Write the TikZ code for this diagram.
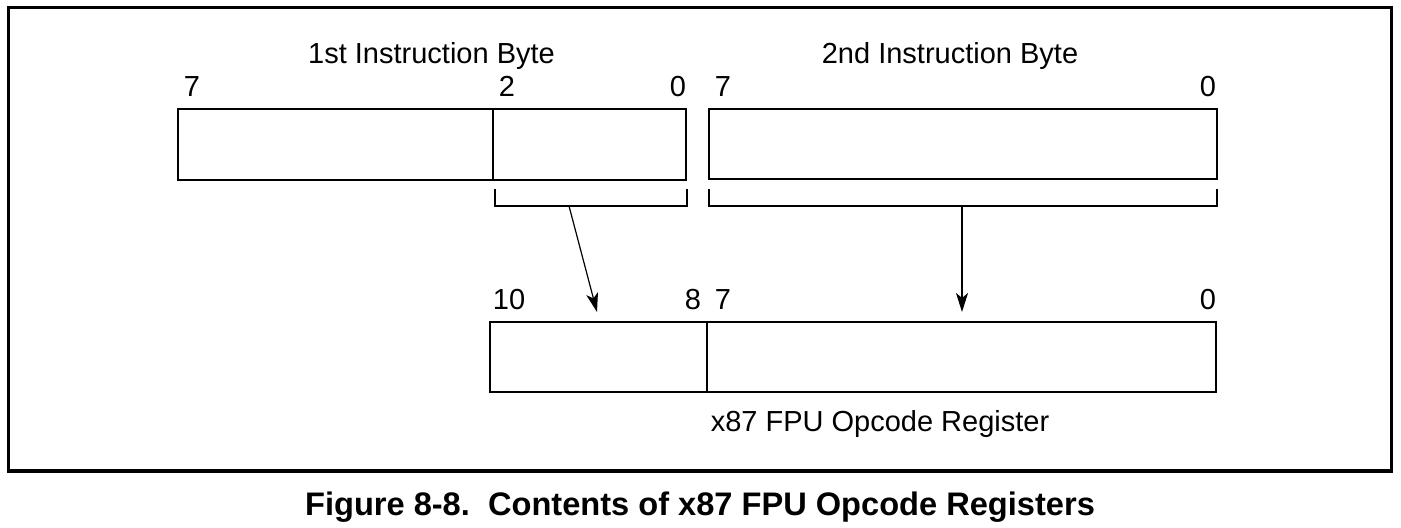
\documentclass[tikz,border=0pt]{standalone}
\usepackage{fontspec}
\setmainfont{Liberation Sans}
\usetikzlibrary{arrows.meta}
\begin{document}
\begin{tikzpicture}[x=0.5pt,y=-0.5pt,
  reg/.style={draw, line width=1.3pt, inner sep=0pt, rectangle},
  lbl/.style={anchor=base, inner sep=0pt, font=\fontsize{14.5pt}{17pt}\selectfont},
  brk/.style={line width=1.1pt},
  arr/.style={-{Stealth[length=9.5pt,width=6pt,inset=2.5pt]}},
  figcap/.style={anchor=base, inner sep=0pt, font=\fontsize{16.3pt}{19pt}\selectfont\bfseries}]
\useasboundingbox (0,0) rectangle (1401,528);
\draw[line width=1.5pt] (8,8) rectangle (1391,471);
% registers
\node[reg, minimum width=254pt, minimum height=35.5pt] (b1) at (432,144.5) {};
\node[reg, minimum width=254pt, minimum height=35pt] (b2) at (963,144) {};
\node[reg, minimum width=363pt, minimum height=35pt] (b3) at (853,357) {};
\coordinate (d1t) at (493,109); \coordinate (d1b) at (493,180);
\draw[line width=1.3pt] (d1t) -- (d1b);
\coordinate (d3t) at (707,322); \coordinate (d3b) at (707,392);
\draw[line width=1.3pt] (d3t) -- (d3b);
% brackets
\coordinate (k1a) at (495,189); \coordinate (k1b) at (495,206);
\coordinate (k1c) at (687,206); \coordinate (k1d) at (687,189);
\draw[brk] (k1a) -- (k1b) -- (k1c) -- (k1d);
\coordinate (k2a) at (709,189); \coordinate (k2b) at (709,206);
\coordinate (k2c) at (1217,206); \coordinate (k2d) at (1217,189);
\draw[brk] (k2a) -- (k2b) -- (k2c) -- (k2d);
% arrows
\coordinate (a1s) at (569,206); \coordinate (a1e) at (597,312);
\draw[arr, line width=0.6pt] (a1s) -- (a1e);
\coordinate (a2s) at (962,206); \coordinate (a2e) at (962,312);
\draw[arr, line width=1pt] (a2s) -- (a2e);
% labels
\node[lbl] (t1) at (431.5,64) {1st Instruction Byte};
\node[lbl] (t2) at (950,64) {2nd Instruction Byte};
\node[lbl] (n17) at (192,97) {7};
\node[lbl] (n12) at (507,97) {2};
\node[lbl] (n10) at (678,97) {0};
\node[lbl] (n27) at (723,97) {7};
\node[lbl] (n20) at (1208,97) {0};
\node[lbl] (m10) at (509,310) {10};
\node[lbl] (m8) at (693,310) {8};
\node[lbl] (m7) at (723,310) {7};
\node[lbl] (m0) at (1208,310) {0};
\node[lbl] (t3) at (880,432) {x87 FPU Opcode Register};
\node[figcap] (c) at (700,515) {Figure 8-8.\ \ Contents of x87 FPU Opcode Registers};
\end{tikzpicture}
\end{document}
